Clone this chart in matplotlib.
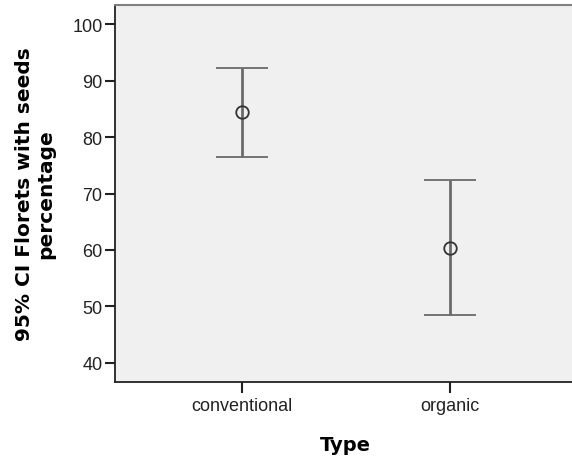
import numpy as np
import matplotlib
matplotlib.use("Agg")
import matplotlib.pyplot as plt

# Datos (IC 95%)
categorias = ["conventional", "organic"]
medias = [84.5, 60.4]
limite_inf = [76.4, 48.4]
limite_sup = [92.3, 72.4]
y_ticks = [40, 50, 60, 70, 80, 90, 100]

plt.rcParams["font.family"] = ["Liberation Sans", "DejaVu Sans"]

fig = plt.figure(figsize=(5.72, 4.6), dpi=100)
ax = fig.add_axes([115 / 572, 1 - 383 / 460, 457 / 572, 377 / 460])
ax.set_facecolor("#f0f0f0")

x = np.arange(len(categorias))
medias = np.array(medias)
err = [medias - np.array(limite_inf), np.array(limite_sup) - medias]

ax.errorbar(
    x, medias, yerr=err,
    fmt="o", mfc="none", mec="#333333", ms=9, mew=1.3,
    ecolor="#6b6b6b", elinewidth=2, capsize=18.7, capthick=2,
    zorder=3,
)

ax.set_xlim(-0.61, 1.587)
ax.set_ylim(36.6, 103.4)
ax.set_xticks(x)
ax.set_xticklabels(categorias)
ax.set_yticks(y_ticks)

ax.tick_params(axis="y", length=7, width=1.5, pad=2, labelsize=13, colors="#222222")
ax.tick_params(axis="x", length=8, width=1.5, pad=3, labelsize=13, colors="#222222")

ax.spines["right"].set_visible(False)
ax.spines["top"].set_color("#808080")
ax.spines["top"].set_linewidth(1.5)
ax.spines["left"].set_color("#222222")
ax.spines["left"].set_linewidth(1.3)
ax.spines["bottom"].set_color("#222222")
ax.spines["bottom"].set_linewidth(1.3)

# etiquetas de ejes en negrita (fuente mas ancha)
ax.set_xlabel("Type", fontsize=14, fontweight="bold", va="top", family="DejaVu Sans")
ax.xaxis.set_label_coords(0.505, -0.14)
ax.set_ylabel("95% CI Florets with seeds\npercentage", fontsize=14.5,
              fontweight="bold", va="center", linespacing=1.2, family="DejaVu Sans")
ax.yaxis.set_label_coords(-0.175, 0.5)

fig.savefig("out.png", dpi=100)
